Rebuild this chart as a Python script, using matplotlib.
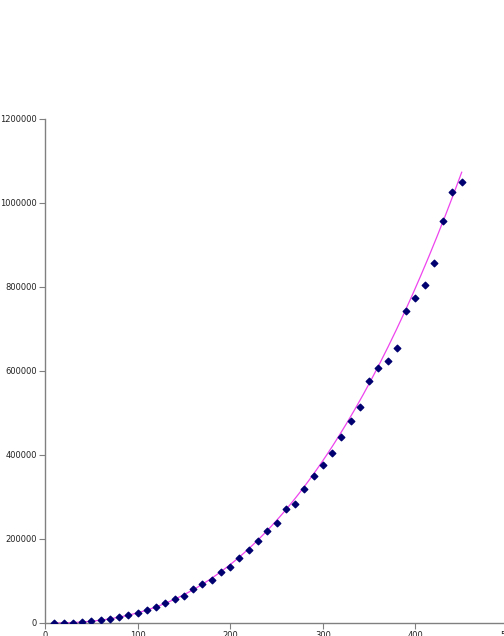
import numpy as np
import matplotlib
matplotlib.use("Agg")
import matplotlib.pyplot as plt

# ====== Data ======
n_values = [10, 20, 30, 40, 50, 60, 70, 80, 90, 100,
            110, 120, 130, 140, 150, 160, 170, 180, 190, 200,
            210, 220, 230, 240, 250, 260, 270, 280, 290, 300,
            310, 320, 330, 340, 350, 360, 370, 380, 390, 400,
            410, 420, 430, 440, 450]
measured = [70, 420, 1170, 2400, 4000, 7100, 10200, 14300, 19000, 24500,
            30200, 37400, 46900, 56400, 65000, 80200, 92100, 101700, 120700, 132600,
            154800, 173100, 196000, 218300, 238800, 270700, 282600, 319000, 350000, 375500,
            404800, 442100, 481700, 513600, 575500, 607200, 623800, 653600, 743600, 773800,
            804000, 856500, 957900, 1025500, 1049300]

# power trend line y = coef * x^exp, parameters
trend_coef = 0.2211
trend_exp = 2.52

x_ticks = [0, 100, 200, 300, 400, 500]
y_ticks = [0, 200000, 400000, 600000, 800000, 1000000, 1200000]

# ====== Trend line ======
x_line = np.linspace(min(n_values), max(n_values), 200)
y_line = trend_coef * x_line ** trend_exp

# ====== Draw ======
fig = plt.figure(figsize=(5.04, 6.36), dpi=100)
ax = fig.add_axes([45 / 504, 13 / 636, 463 / 504, 504 / 636])

ax.plot(x_line, y_line, color="#ee44ee", linewidth=0.9, zorder=2)
ax.scatter(n_values, measured, marker="D", s=11, color="#000070", zorder=3)

ax.set_xlim(0, 500)
ax.set_ylim(0, 1200000)
ax.set_xticks(x_ticks)
ax.set_yticks(y_ticks)
ax.set_xticklabels([str(v) for v in x_ticks])
ax.set_yticklabels([str(v) for v in y_ticks])

for side in ["top", "right"]:
    ax.spines[side].set_visible(False)
for side in ["left", "bottom"]:
    ax.spines[side].set_color("#808080")
    ax.spines[side].set_linewidth(1.0)
ax.tick_params(axis="both", labelsize=6, length=4, width=0.8,
               color="#808080", labelcolor="#222222", pad=2)

fig.savefig("out.png", dpi=100)
